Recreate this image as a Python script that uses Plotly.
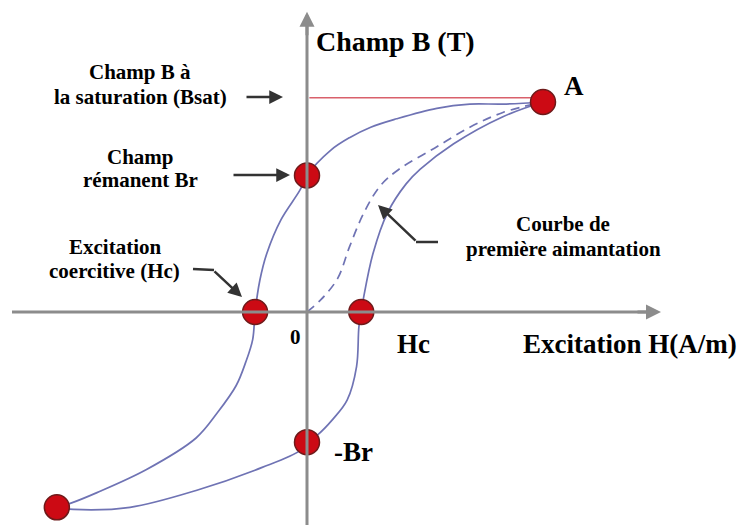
import plotly.graph_objects as go

###### Data (H in units of H at point A, B in units of B at point A)

# descending branch: A -> Br -> -Hc -> -A
UP_H = [1.00, 0.83, 0.69, 0.55, 0.38, 0.27, 0.18, 0.10, 0.00, -0.03, -0.11, -0.17,
        -0.20, -0.22, -0.23, -0.26, -0.30, -0.38, -0.47, -0.68, -0.89, -1.00, -1.06]
UP_B = [1.00, 0.99, 0.99, 0.97, 0.92, 0.88, 0.83, 0.77, 0.65, 0.58, 0.44, 0.28,
        0.15, 0.00, -0.13, -0.24, -0.35, -0.48, -0.60, -0.75, -0.86, -0.91, -0.93]

# ascending branch: -A -> -Br -> +Hc -> A
LOW_H = [-1.06, -0.99, -0.75, -0.47, -0.19, -0.03, 0.00, 0.04, 0.11, 0.17, 0.21,
         0.22, 0.23, 0.24, 0.28, 0.34, 0.42, 0.48, 0.62, 0.83, 1.00]
LOW_B = [-0.93, -0.94, -0.93, -0.85, -0.74, -0.66, -0.62, -0.59, -0.51, -0.42, -0.26,
         -0.07, 0.00, 0.07, 0.28, 0.47, 0.61, 0.68, 0.80, 0.93, 1.00]

# first magnetisation curve
FIRST_H = [0.00, 0.06, 0.13, 0.18, 0.24, 0.31, 0.39, 0.54, 0.69, 0.83, 1.00]
FIRST_B = [0.00, 0.06, 0.16, 0.31, 0.47, 0.60, 0.68, 0.78, 0.88, 0.95, 1.00]

# remarkable points: A, Br, -Hc, +Hc, -Br, -A
PT_H = [1.00, 0.00, -0.22, 0.23, 0.00, -1.06]
PT_B = [1.00, 0.65, 0.00, 0.00, -0.62, -0.93]

B_SAT = 1.02

###### Style

CURVE = "#6f73b4"
AXIS = "#8c8c8c"
INK = "#333333"
FONT = "Liberation Serif, Times New Roman, serif"

W, H = 740, 525


def px(x, y):
    # reference pixel position -> paper coords
    return x / W, 1 - y / H


fig = go.Figure()

fig.add_trace(go.Scatter(x=UP_H, y=UP_B, mode="lines", line_shape="spline",
                         line=dict(color=CURVE, width=1.7), hoverinfo="skip"))
fig.add_trace(go.Scatter(x=LOW_H, y=LOW_B, mode="lines", line_shape="spline",
                         line=dict(color=CURVE, width=1.7), hoverinfo="skip"))
fig.add_trace(go.Scatter(x=FIRST_H, y=FIRST_B, mode="lines", line_shape="spline",
                         line=dict(color=CURVE, width=1.7, dash="9px,6px"), hoverinfo="skip"))

# saturation line
fig.add_trace(go.Scatter(x=[0.01, PT_H[0] - 0.04], y=[B_SAT, B_SAT], mode="lines",
                         line=dict(color="#d9606b", width=1.5), hoverinfo="skip"))

# axes (drawn under the markers)
fig.add_shape(type="line", x0=0, x1=0, y0=-1.05, y1=1.38, line=dict(color=AXIS, width=3))
fig.add_shape(type="line", x0=-1.25, x1=1.45, y0=0, y1=0, line=dict(color=AXIS, width=3))

fig.add_trace(go.Scatter(x=PT_H, y=PT_B, mode="markers",
                         marker=dict(size=25, color="#cc0a14",
                                     line=dict(color="#6e1a1a", width=1.5)),
                         hoverinfo="skip"))

ann = []
# axis arrowheads
ann.append(dict(x=0, y=1.43, xref="x", yref="y", ax=0, ay=25, showarrow=True,
                arrowhead=2, arrowsize=1, arrowwidth=3, arrowcolor=AXIS, text=""))
ann.append(dict(x=1.50, y=0, xref="x", yref="y", ax=-25, ay=0, showarrow=True,
                arrowhead=2, arrowsize=1, arrowwidth=3, arrowcolor=AXIS, text=""))


def label(text, x, y, size, anchor="center"):
    xx, yy = px(x, y)
    ann.append(dict(x=xx, y=yy, xref="paper", yref="paper", text=f"<b>{text}</b>",
                    showarrow=False, xanchor=anchor, yanchor="middle",
                    font=dict(family=FONT, size=size, color="black")))


def pointer(x, y, dx, dy):
    xx, yy = px(x, y)
    ann.append(dict(x=xx, y=yy, xref="paper", yref="paper", ax=dx, ay=dy, text="",
                    showarrow=True, arrowhead=2, arrowsize=1.1, arrowwidth=2.5,
                    arrowcolor=INK))


label("Champ B (T)", 314, 42, 28, "left")
label("A", 574, 86, 27)
label("Champ B à", 140, 72, 21)
label("la saturation (Bsat)", 140, 97, 21)
label("Champ", 140, 157, 21)
label("rémanent Br", 140, 180, 21)
label("Excitation", 115, 247, 21)
label("coercitive (Hc)", 114, 271, 21)
label("Courbe de", 563, 224, 21)
label("première aimantation", 563, 249, 21)
label("0", 295, 337, 21)
label("Hc", 413, 344, 27)
label("Excitation H(A/m)", 739, 344, 27, "right")
label("-Br", 332, 452, 27, "left")

pointer(283, 97, -38, 0)
pointer(290, 175, -58, 0)
pointer(242, 297, -29, -27)
pointer(378, 205, 39, 37)

# elbows of the bent pointers
for (x0, y0, x1, y1) in [(193, 269, 214, 270), (438, 242, 416, 242)]:
    a, b = px(x0, y0)
    c, d = px(x1, y1)
    fig.add_shape(type="line", xref="paper", yref="paper", x0=a, y0=b, x1=c, y1=d,
                  line=dict(color=INK, width=2.5))

fig.update_layout(
    width=W, height=H,
    margin=dict(l=0, r=0, t=0, b=0),
    plot_bgcolor="white", paper_bgcolor="white",
    showlegend=False,
    annotations=ann,
    xaxis=dict(range=[-307 / 236, (740 - 307) / 236], visible=False, fixedrange=True),
    yaxis=dict(range=[(312 - 525) / 210, 312 / 210], visible=False, fixedrange=True),
)

# drop the default 8px page margin so the figure fills the window exactly
fig.write_html("out.html", config={"displayModeBar": False},
               post_script="document.body.style.margin='0';document.body.style.overflow='hidden';")
